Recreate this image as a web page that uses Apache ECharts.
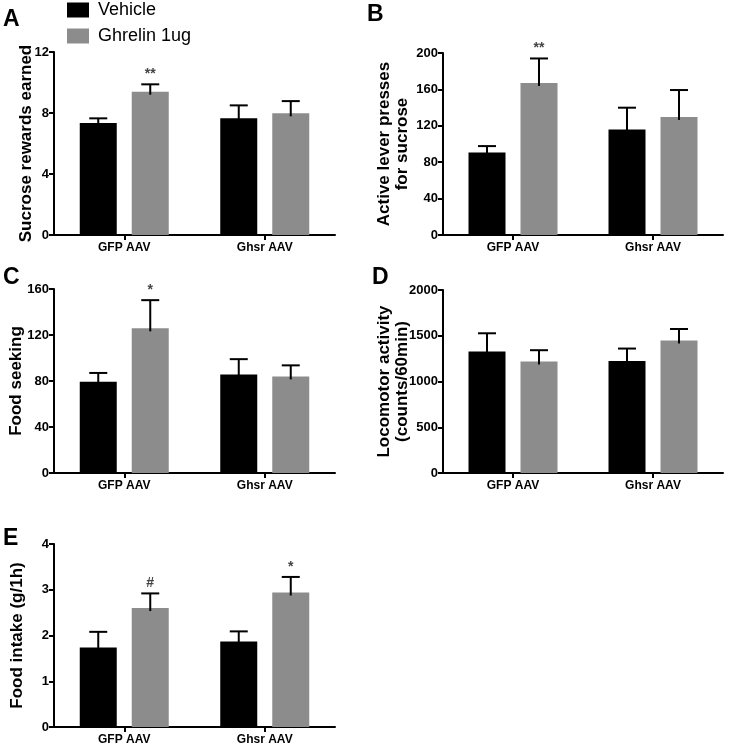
<!DOCTYPE html>
<html>
<head>
<meta charset="utf-8">
<script src="https://cdn.jsdelivr.net/npm/echarts@6/dist/echarts.min.js"></script>
<style>html,body{margin:0;padding:0;background:#fff}#c{width:729px;height:750px}</style>
</head>
<body>
<div id="c"></div>
<script>
// ---- data ----
const categories = ['GFP AAV', 'Ghsr AAV'];
const seriesNames = ['Vehicle', 'Ghrelin 1ug'];

const aVehicle = [7.35, 7.65];   const aVehicleSem = [0.3, 0.85];
const aGhrelin = [9.4, 7.98];    const aGhrelinSem = [0.48, 0.8];
const aMarks = ['**', ''];

const bVehicle = [90.7, 115.9];  const bVehicleSem = [7, 24];
const bGhrelin = [167, 129.8];   const bGhrelinSem = [27, 29.5];
const bMarks = ['**', ''];

const cVehicle = [79.4, 85.7];   const cVehicleSem = [7.6, 13.3];
const cGhrelin = [125.8, 84];    const cGhrelinSem = [24.5, 9.6];
const cMarks = ['*', ''];

const dVehicle = [1327, 1225];   const dVehicleSem = [200, 135];
const dGhrelin = [1218, 1447];   const dGhrelinSem = [124, 127];
const dMarks = ['', ''];

const eVehicle = [1.74, 1.87];   const eVehicleSem = [0.34, 0.22];
const eGhrelin = [2.60, 2.94];   const eGhrelinSem = [0.32, 0.34];
const eMarks = ['#', '*'];

const yTitles = ['Sucrose rewards earned', 'Active lever presses\nfor sucrose', 'Food seeking', 'Locomotor activity\n(counts/60min)', 'Food intake (g/1h)'];
const yMax = [12, 200, 160, 2000, 4];
const yInterval = [4, 40, 40, 500, 1];
const panelLetters = ['A', 'B', 'C', 'D', 'E'];

// ---- layout / style ----
const FONT = 'Liberation Sans, Arial, sans-serif';
const BLACK = '#000000';
const GRAY = '#8c8c8c';
const BAR_W = 37;
const BAR_GAP_PX = 15;
const grids = [
  {left: 54, top: 52, width: 281, height: 183},
  {left: 443, top: 53, width: 280, height: 182},
  {left: 54, top: 289, width: 281, height: 184},
  {left: 443, top: 290, width: 280, height: 183},
  {left: 54, top: 544, width: 281, height: 183}
];
const nameGaps = [19, 32, 29, 32, 28];
const letterPos = [[3, 8], [367, 3.5], [3, 266], [372, 266.5], [3, 527]];

const panels = [
  {veh: aVehicle, vehSem: aVehicleSem, ghr: aGhrelin, ghrSem: aGhrelinSem, marks: aMarks},
  {veh: bVehicle, vehSem: bVehicleSem, ghr: bGhrelin, ghrSem: bGhrelinSem, marks: bMarks},
  {veh: cVehicle, vehSem: cVehicleSem, ghr: cGhrelin, ghrSem: cGhrelinSem, marks: cMarks},
  {veh: dVehicle, vehSem: dVehicleSem, ghr: dGhrelin, ghrSem: dGhrelinSem, marks: dMarks},
  {veh: eVehicle, vehSem: eVehicleSem, ghr: eGhrelin, ghrSem: eGhrelinSem, marks: eMarks}
];

function errSeries(i, means, sems, marks, offset) {
  const data = means.map((m, k) => [k, m, m + sems[k], marks ? marks[k] : '']);
  return {
    type: 'custom', name: 'err' + i + offset, xAxisIndex: i, yAxisIndex: i, z: 5,
    silent: true,
    data: data,
    renderItem: function (params, api) {
      const x = api.coord([api.value(0), api.value(1)])[0] + offset;
      const yMean = api.coord([api.value(0), api.value(1)])[1];
      const yTop = api.coord([api.value(0), api.value(2)])[1];
      const mark = data[params.dataIndex][3];
      const children = [
        {type: 'line', shape: {x1: x, y1: yMean + 3, x2: x, y2: yTop}, style: {stroke: BLACK, lineWidth: 2}},
        {type: 'line', shape: {x1: x - 9, y1: yTop, x2: x + 9, y2: yTop}, style: {stroke: BLACK, lineWidth: 2}}
      ];
      if (mark) {
        children.push({type: 'text', x: x, y: yTop - 3,
          style: {text: mark, fill: '#444', font: 'bold 14px ' + FONT, align: 'center', verticalAlign: 'bottom'}});
      }
      return {type: 'group', children: children};
    }
  };
}

const option = {
  animation: false,
  backgroundColor: '#fff',
  legend: {
    data: seriesNames, orient: 'vertical', left: 62, top: -4,
    icon: 'rect', itemWidth: 22, itemHeight: 15, itemGap: 8,
    textStyle: {fontSize: 18, color: BLACK, fontFamily: FONT, padding: [0, 0, 0, 4]}
  },
  graphic: panelLetters.map((t, i) => ({
    type: 'text', left: letterPos[i][0], top: letterPos[i][1],
    style: {text: t, font: 'bold 23px ' + FONT, fill: BLACK}
  })),
  grid: grids.map(g => Object.assign({containLabel: false}, g)),
  xAxis: grids.map((g, i) => ({
    type: 'category', gridIndex: i, data: categories,
    axisLine: {lineStyle: {color: BLACK, width: 2}},
    axisTick: {show: true, alignWithLabel: true, length: 5, lineStyle: {color: BLACK, width: 2}},
    axisLabel: {color: BLACK, fontWeight: 'bold', fontSize: 12, fontFamily: FONT, margin: 7},
    splitLine: {show: false}
  })),
  yAxis: grids.map((g, i) => ({
    type: 'value', gridIndex: i, min: 0, max: yMax[i], interval: yInterval[i],
    name: yTitles[i], nameLocation: 'middle', nameGap: nameGaps[i], nameMoveOverlap: false,
    nameTextStyle: {color: BLACK, fontWeight: 'bold', fontSize: 17, fontFamily: FONT, lineHeight: 18},
    axisLine: {show: true, lineStyle: {color: BLACK, width: 2}},
    axisTick: {show: true, length: 5, lineStyle: {color: BLACK, width: 2}},
    axisLabel: {color: BLACK, fontWeight: 'bold', fontSize: 13, fontFamily: FONT, margin: 5,
      formatter: v => String(v)},
    splitLine: {show: false}
  })),
  series: []
};

const half = (BAR_W + BAR_GAP_PX) / 2;
panels.forEach((p, i) => {
  option.series.push({
    type: 'bar', name: seriesNames[0], xAxisIndex: i, yAxisIndex: i, data: p.veh,
    barWidth: BAR_W, barGap: (BAR_GAP_PX / BAR_W * 100) + '%', itemStyle: {color: BLACK}
  });
  option.series.push({
    type: 'bar', name: seriesNames[1], xAxisIndex: i, yAxisIndex: i, data: p.ghr,
    barWidth: BAR_W, barGap: (BAR_GAP_PX / BAR_W * 100) + '%', itemStyle: {color: GRAY}
  });
  option.series.push(errSeries(i, p.veh, p.vehSem, null, -half));
  option.series.push(errSeries(i, p.ghr, p.ghrSem, p.marks, half));
});

const chart = echarts.init(document.getElementById('c'), null, {renderer: 'canvas'});
chart.setOption(option);
</script>
</body>
</html>
